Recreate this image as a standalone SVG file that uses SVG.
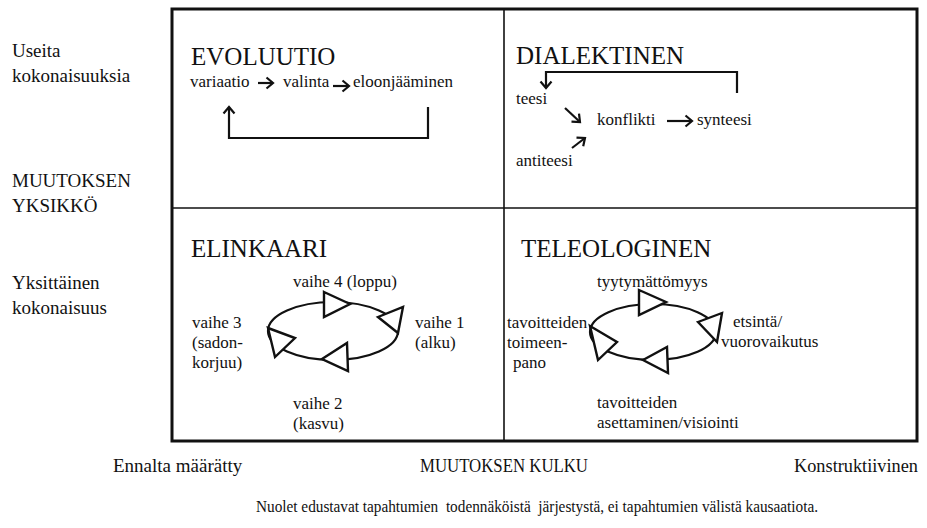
<svg xmlns="http://www.w3.org/2000/svg" width="927" height="528" viewBox="0 0 927 528" font-family="'Liberation Serif', 'DejaVu Serif', serif">
  <defs>
    <style>
      text { font-family: 'Liberation Serif', 'DejaVu Serif', serif; fill: #111; }
      .title { font-size: 25px; }
      .lbl { font-size: 17px; }
      .axis { font-size: 19px; }
      .note { font-size: 16px; }
      .grid { fill: none; stroke: #111; stroke-width: 1.6; }
      .frame { fill: none; stroke: #111; stroke-width: 3; }
      .arr { fill: none; stroke: #111; stroke-width: 2.2; marker-end: url(#chev); }
      .loop { fill: none; stroke: #111; stroke-width: 2.2; }
      .tri { fill: #fff; stroke: #111; stroke-width: 2.4; stroke-linejoin: miter; }
    </style>
    <marker id="chev" viewBox="-8 -7 10 14" refX="0" refY="0" markerWidth="10" markerHeight="14" markerUnits="userSpaceOnUse" orient="auto" overflow="visible">
      <path d="M-6.5,-5.5 L0,0 L-6.5,5.5" fill="none" stroke="#111" stroke-width="2.2"/>
    </marker>
  </defs>
  <rect width="927" height="528" fill="#fff"/>

  <!-- quadrant grid -->
  <g id="grid">
    <line class="grid" x1="504" y1="9" x2="504" y2="441"/>
    <line class="grid" x1="172" y1="208" x2="917" y2="208"/>
    <rect class="frame" x="172" y="9" width="745" height="432"/>
  </g>

  <!-- side and bottom axis labels -->
  <g id="axis-unit">
    <text class="axis" x="12" y="57">Useita</text>
    <text class="axis" x="12" y="82">kokonaisuuksia</text>
    <text class="axis" x="12" y="187">MUUTOKSEN</text>
    <text class="axis" x="12" y="212">YKSIKKÖ</text>
    <text class="axis" x="12" y="289">Yksittäinen</text>
    <text class="axis" x="12" y="314">kokonaisuus</text>
  </g>
  <g id="axis-course">
    <text class="axis" x="113" y="472">Ennalta määrätty</text>
    <text class="axis" x="420" y="472" textLength="168" lengthAdjust="spacingAndGlyphs">MUUTOKSEN KULKU</text>
    <text class="axis" x="794" y="472" textLength="124" lengthAdjust="spacingAndGlyphs">Konstruktiivinen</text>
  </g>
  <g id="footnote">
    <text class="note" x="256" y="512" textLength="562" lengthAdjust="spacingAndGlyphs" xml:space="preserve">Nuolet edustavat tapahtumien  todennäköistä  järjestystä, ei tapahtumien välistä kausaatiota.</text>
  </g>

  <!-- EVOLUUTIO quadrant -->
  <g id="evoluutio">
    <text class="title" x="191" y="65">EVOLUUTIO</text>
    <text class="lbl" x="190" y="87">variaatio</text>
    <text class="lbl" x="283" y="87">valinta</text>
    <text class="lbl" x="353" y="87">eloonjääminen</text>
  </g>

  <!-- DIALEKTINEN quadrant -->
  <g id="dialektinen">
    <text class="title" x="516" y="64">DIALEKTINEN</text>
    <text class="lbl" x="516" y="104">teesi</text>
    <text class="lbl" x="597" y="125">konflikti</text>
    <text class="lbl" x="697" y="125">synteesi</text>
    <text class="lbl" x="516" y="166">antiteesi</text>
  </g>

  <!-- ELINKAARI quadrant -->
  <g id="elinkaari">
    <text class="title" x="191" y="257">ELINKAARI</text>
    <text class="lbl" x="293" y="287">vaihe 4 (loppu)</text>
    <text class="lbl" x="415" y="328">vaihe 1</text>
    <text class="lbl" x="415" y="348">(alku)</text>
    <text class="lbl" x="192" y="328">vaihe 3</text>
    <text class="lbl" x="192" y="348">(sadon-</text>
    <text class="lbl" x="192" y="368">korjuu)</text>
    <text class="lbl" x="293" y="409">vaihe 2</text>
    <text class="lbl" x="293" y="429">(kasvu)</text>
  </g>

  <!-- TELEOLOGINEN quadrant -->
  <g id="teleologinen">
    <text class="title" x="521" y="257">TELEOLOGINEN</text>
    <text class="lbl" x="597" y="287">tyytymättömyys</text>
    <text class="lbl" x="733" y="327">etsintä/</text>
    <text class="lbl" x="721" y="347">vuorovaikutus</text>
    <text class="lbl" x="507" y="328">tavoitteiden</text>
    <text class="lbl" x="507" y="348">toimeen-</text>
    <text class="lbl" x="513" y="368">pano</text>
    <text class="lbl" x="597" y="408">tavoitteiden</text>
    <text class="lbl" x="597" y="428">asettaminen/visiointi</text>
  </g>

  <!-- connectors -->
  <g id="connectors">
    <!-- evolution sequence and feedback loop -->
    <line class="arr" x1="258" y1="83" x2="273" y2="83"/>
    <line class="arr" x1="333" y1="86" x2="349" y2="86"/>
    <path class="arr" d="M428,107 V138 H229 V107"/>

    <!-- dialectic flow and return loop -->
    <path class="arr" d="M737,93 V72 H546 V88"/>
    <line class="arr" x1="565" y1="108" x2="580" y2="122"/>
    <line class="arr" x1="572" y1="148" x2="585" y2="138"/>
    <line class="arr" x1="667" y1="121" x2="692" y2="121"/>

    <!-- life-cycle loop -->
    <ellipse class="loop" cx="333" cy="331" rx="65" ry="29"/>
    <polygon class="tri" points="324,292 350,304 324,317"/>
    <polygon class="tri" points="378,317 403,307 398,333"/>
    <polygon class="tri" points="322,359 347,343 348,371"/>
    <polygon class="tri" points="268,328 295,338 275,357"/>

    <!-- teleological loop -->
    <ellipse class="loop" cx="653" cy="332" rx="63" ry="28"/>
    <polygon class="tri" points="639,290 666,302 639,315"/>
    <polygon class="tri" points="698,322 722,313 717,342"/>
    <polygon class="tri" points="643,360 667,347 668,373"/>
    <polygon class="tri" points="590,326 617,342 598,360"/>
  </g>
</svg>
